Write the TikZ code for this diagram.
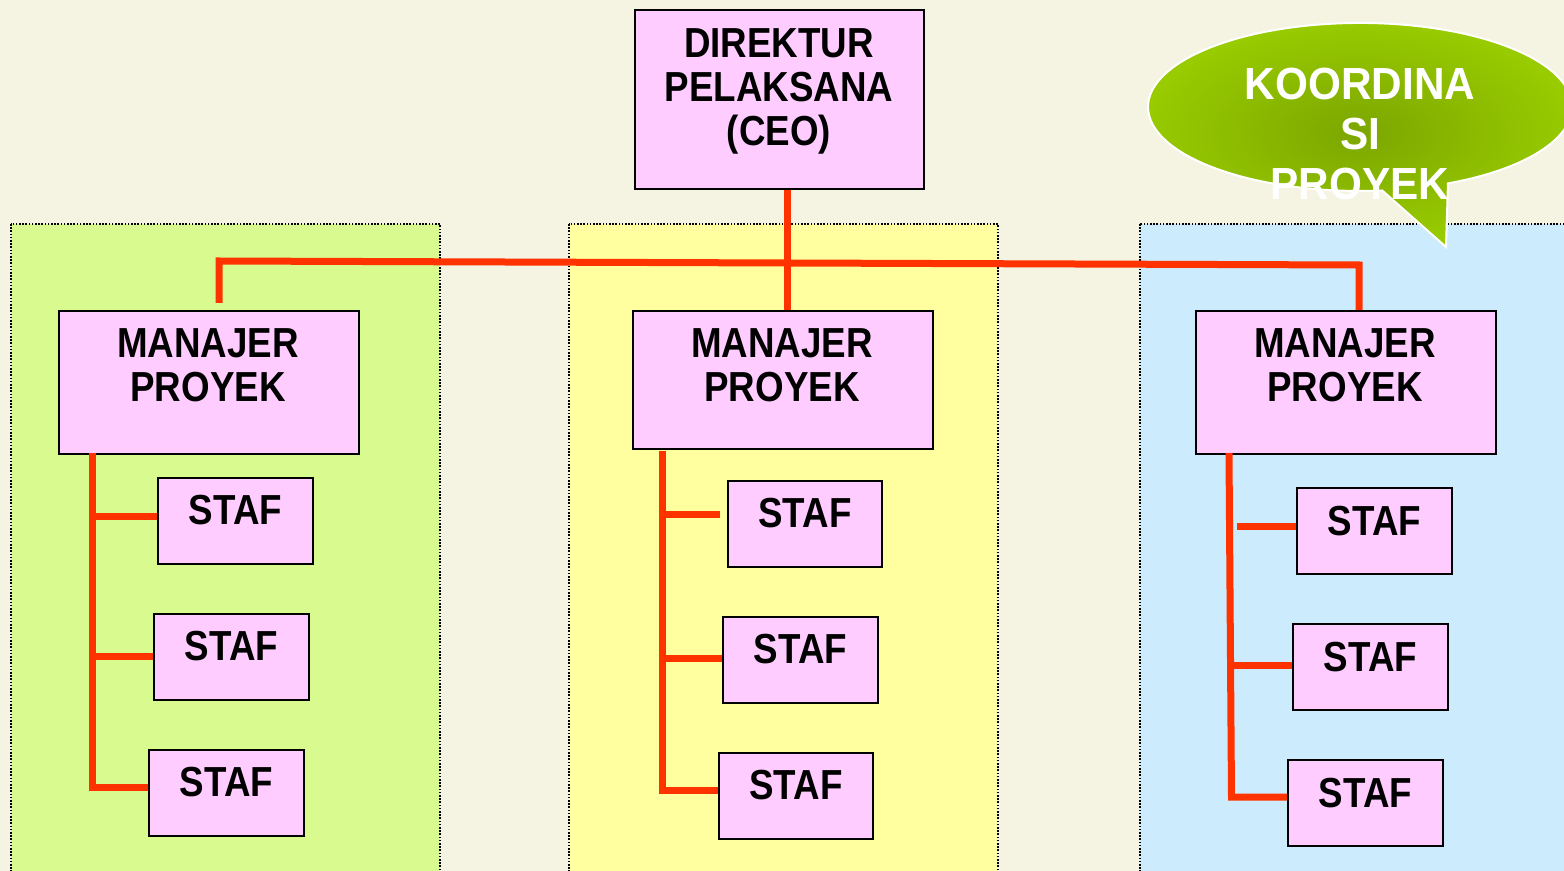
\documentclass[tikz,border=0pt]{standalone}
\usepackage{fontspec}
\setmainfont{Liberation Sans}
\definecolor{bgc}{HTML}{F5F3E2}
\definecolor{pgreen}{HTML}{D8FA8E}
\definecolor{pyellow}{HTML}{FFFF9F}
\definecolor{pblue}{HTML}{CCEBFC}
\definecolor{boxpink}{HTML}{FFCCFF}
\definecolor{linered}{HTML}{FF3300}
\definecolor{calloutout}{HTML}{99CC00}
\definecolor{calloutin}{HTML}{7CA600}
\newcommand\bx[5]{\node[pbox, minimum width=#4*0.5pt, minimum height=#5*0.5pt] (#1) at (#2,#3) {};}
\newcommand\sq[1]{\scalebox{0.875}[1]{#1}}
\newcommand\sqc[1]{\scalebox{0.94}[1]{#1}}
\begin{document}
\begin{tikzpicture}[x=0.5pt,y=-0.5pt,
  pbox/.style={draw=black, line width=1pt, fill=boxpink, inner sep=0pt, anchor=north west},
  lbl/.style={font=\bfseries\fontsize{21}{22}\selectfont, align=center, inner sep=0pt, anchor=north, text=black},
  ctext/.style={font=\bfseries\fontsize{22.5}{25}\selectfont, align=center, inner sep=0pt, anchor=north, text=white},
  conn/.style={draw=linered, line width=3.5pt},
  panel/.style={draw=black, line width=0.7pt, dash pattern=on 0.8pt off 0.8pt}]
\useasboundingbox (0,0) rectangle (1564,871);
\fill[bgc] (0,0) rectangle (1564,871);
% panels
\draw[panel, fill=pgreen] (11,224) rectangle (440,875);
\draw[panel, fill=pyellow] (569,224) rectangle (998,875);
\draw[panel, fill=pblue] (1140,224) rectangle (1570,875);
% callout
\path[draw=white, line width=1pt, inner color=calloutin, outer color=calloutout]
  (1382.2,190.5) arc[start angle=84, end angle=425.5, x radius=212, y radius=84]
  -- (1446,247) -- cycle;
% boxes
\bx{ceo}{634}{9}{289}{179}
\bx{m1}{58}{310}{300}{143}
\bx{m2}{632}{310}{300}{138}
\bx{m3}{1195}{310}{300}{143}
\bx{s11}{157}{477}{155}{86}
\bx{s12}{153}{613}{155}{86}
\bx{s13}{148}{749}{155}{86}
\bx{s21}{727}{480}{154}{86}
\bx{s22}{722}{616}{155}{86}
\bx{s23}{718}{752}{154}{86}
\bx{s31}{1296}{487}{155}{86}
\bx{s32}{1292}{623}{155}{86}
\bx{s33}{1287}{759}{155}{86}
% connectors
\coordinate (bl) at (219,261);
\coordinate (bm) at (787,263);
\coordinate (br) at (1359,265);
\coordinate (blend) at (219,303);
\draw[conn] (ceo.south -| bm) -- (m2.north -| bm);
\draw[conn] (blend) -- (bl) -- (br) -- (m3.north -| br);
% left branch
\coordinate (l0) at (92,453);
\coordinate (l3) at (92,787);
\draw[conn] (l0) -- (l3) -- (s13.west |- l3);
\draw[conn] (92,517) -- (s11.west |- 0,517);
\draw[conn] (92,656) -- (s12.west |- 0,656);
% middle branch
\coordinate (c0) at (662,451);
\coordinate (c3) at (662,790);
\draw[conn] (c0) -- (c3) -- (s23.west |- c3);
\coordinate (c1e) at (720,515);
\draw[conn] (662,515) -- (c1e);
\draw[conn] (662,658) -- (s22.west |- 0,658);
% right branch
\coordinate (r0) at (1229,453);
\coordinate (r3) at (1231.5,797);
\draw[conn] (r0) -- (r3) -- (s33.west |- r3);
\coordinate (r1s) at (1237,527);
\draw[conn] (r1s) -- (s31.west |- r1s);
\draw[conn] (1230.5,665.5) -- (s32.west |- 0,665.5);
% labels
\node[lbl] (tceo) at (779,28) {\sq{DIREKTUR}\\\sq{PELAKSANA}\\\sq{(CEO)}};
\node[lbl] (tm1) at (208,328) {\sq{MANAJER}\\\sq{PROYEK}};
\node[lbl] (tm2) at (782,328) {\sq{MANAJER}\\\sq{PROYEK}};
\node[lbl] (tm3) at (1345,328) {\sq{MANAJER}\\\sq{PROYEK}};
\node[lbl] (ts11) at ([yshift=-9pt]s11.north) {\sq{STAF}};
\node[lbl] (ts12) at ([yshift=-9pt]s12.north) {\sq{STAF}};
\node[lbl] (ts13) at ([yshift=-9pt]s13.north) {\sq{STAF}};
\node[lbl] (ts21) at ([yshift=-9pt]s21.north) {\sq{STAF}};
\node[lbl] (ts22) at ([yshift=-9pt]s22.north) {\sq{STAF}};
\node[lbl] (ts23) at ([yshift=-9pt]s23.north) {\sq{STAF}};
\node[lbl] (ts31) at ([yshift=-9.5pt]s31.north) {\sq{STAF}};
\node[lbl] (ts32) at ([yshift=-9.5pt]s32.north) {\sq{STAF}};
\node[lbl] (ts33) at ([yshift=-9.5pt]s33.north) {\sq{STAF}};
\node[ctext] (tk) at (1360,68) {\sqc{KOORDINA}\\\sqc{SI}\\\sqc{PROYEK}};
\end{tikzpicture}
\end{document}
